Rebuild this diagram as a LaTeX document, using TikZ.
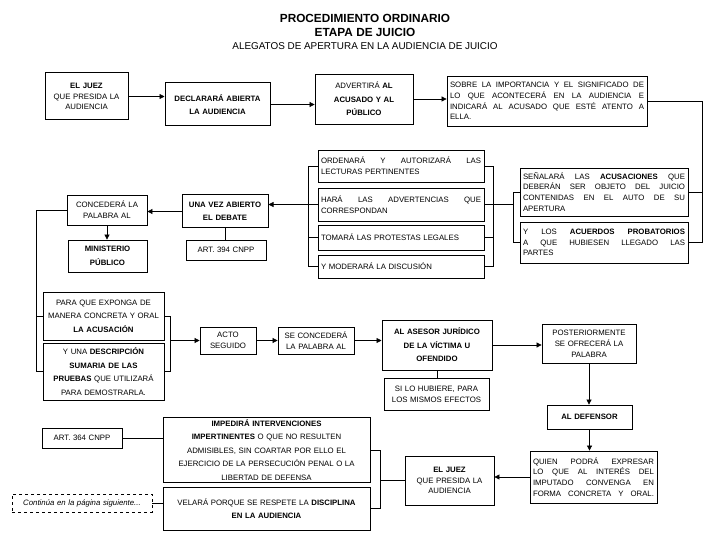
\documentclass[tikz,border=0pt]{standalone}
\usepackage{fontspec}
\setmainfont{Liberation Sans}
\usetikzlibrary{arrows.meta}
\newcommand\jl[1]{\leavevmode\hbox to\hsize{\spaceskip=0pt\xspaceskip=0pt\relax #1}}
\newcommand\mkbox[7]{%
  \pgfmathsetmacro\bw{#4-#2}%
  \pgfmathsetmacro\bh{#5-#3}%
  \pgfmathsetmacro\bcx{(#2+#4)/2}%
  \pgfmathsetmacro\bcy{(#3+#5)/2}%
  \pgfmathsetmacro\btw{#4-#2-6}%
  \node[box,minimum width=\bw pt,minimum height=\bh pt,text width=\btw pt,#6] (#1) at (\bcx,\bcy) {#7};}
\tikzset{
  box/.style={draw,line width=0.8pt,inner sep=2pt,align=center,font=\fontsize{7.8}{10.8}\selectfont},
  wide/.style={font=\fontsize{7.8}{13.5}\selectfont},
  jus/.style={align=left},
  thin/.style={line width=0.5pt},
  ln/.style={line width=0.7pt},
  arr/.style={line width=0.7pt,-{Triangle[length=5pt,width=5pt]}}
}
\begin{document}
\begin{tikzpicture}[x=1pt,y=-1pt]
\useasboundingbox (0,0) rectangle (720,540);
% titles
\node[font=\bfseries\fontsize{11.8}{13}\selectfont] (t1) at (365,18) {PROCEDIMIENTO ORDINARIO};
\node[font=\bfseries\fontsize{11.8}{13}\selectfont] (t2) at (365,32) {ETAPA DE JUICIO};
\node[font=\fontsize{9.9}{11}\selectfont] (t3) at (365,46) {ALEGATOS DE APERTURA EN LA AUDIENCIA DE JUICIO};
% row 1
\mkbox{juez1}{45}{73}{128}{120}{line width=1pt}{\textbf{EL JUEZ}\\QUE PRESIDA LA\\AUDIENCIA}
\mkbox{declara}{165}{83}{270}{126}{wide,line width=1pt}{\textbf{DECLARARÁ ABIERTA\\LA AUDIENCIA}}
\mkbox{advierte}{315}{74}{413}{124}{wide}{ADVERTIRÁ \textbf{AL}\\\textbf{ACUSADO Y AL}\\\textbf{PÚBLICO}}
\mkbox{sobre}{447}{76}{647}{126}{jus}{\jl{SOBRE LA IMPORTANCIA Y EL SIGNIFICADO DE}\\\jl{LO QUE ACONTECERÁ EN LA AUDIENCIA E}\\\jl{INDICARÁ AL ACUSADO QUE ESTÉ ATENTO A}\\ELLA.}
% right group
\mkbox{senala}{520}{168}{688}{216}{jus}{\jl{SEÑALARÁ LAS \textbf{ACUSACIONES} QUE}\\\jl{DEBERÁN SER OBJETO DEL JUICIO}\\\jl{CONTENIDAS EN EL AUTO DE SU}\\APERTURA}
\mkbox{ylos}{520}{222}{688}{263}{jus}{\jl{Y LOS \textbf{ACUERDOS PROBATORIOS}}\\\jl{A QUE HUBIESEN LLEGADO LAS}\\PARTES}
% middle group
\mkbox{ordena}{318}{150}{484}{182}{jus}{\jl{ORDENARÁ Y AUTORIZARÁ LAS}\\LECTURAS PERTINENTES}
\mkbox{hara}{318}{188}{484}{221}{jus}{\jl{HARÁ LAS ADVERTENCIAS QUE}\\CORRESPONDAN}
\mkbox{toma}{318}{225}{484}{250}{jus}{TOMARÁ LAS PROTESTAS LEGALES}
\mkbox{modera}{318}{255}{484}{278}{jus}{Y MODERARÁ LA DISCUSIÓN}
% left upper
\mkbox{unavez}{182}{195}{268}{228}{wide,line width=1pt}{\textbf{UNA VEZ ABIERTO\\EL DEBATE}}
\mkbox{art394}{186}{240}{266}{260}{thin}{ART. 394 CNPP}
\mkbox{concede}{67}{195}{147}{225}{}{CONCEDERÁ LA\\PALABRA AL}
\mkbox{mp}{68}{240}{147}{272}{wide}{\textbf{MINISTERIO\\PÚBLICO}}
% left lower
\mkbox{para}{43}{292}{164}{340}{wide}{PARA QUE EXPONGA DE\\MANERA CONCRETA Y ORAL\\\textbf{LA ACUSACIÓN}}
\mkbox{yuna}{43}{343}{164}{400}{wide}{Y UNA \textbf{DESCRIPCIÓN}\\\textbf{SUMARIA DE LAS}\\\textbf{PRUEBAS} QUE UTILIZARÁ\\PARA DEMOSTRARLA.}
\mkbox{acto}{200}{327}{256}{354}{}{ACTO\\SEGUIDO}
\mkbox{seconcede}{278}{327}{354}{354}{}{SE CONCEDERÁ\\LA PALABRA AL}
\mkbox{asesor}{382}{320}{492}{370}{wide,line width=1pt}{\textbf{AL ASESOR JURÍDICO\\DE LA VÍCTIMA U\\OFENDIDO}}
\mkbox{silo}{384}{378}{489}{410}{thin}{SI LO HUBIERE, PARA\\LOS MISMOS EFECTOS}
\mkbox{poster}{542}{324}{636}{363}{}{POSTERIORMENTE\\SE OFRECERÁ LA\\PALABRA}
\mkbox{defensor}{547}{405}{632}{429}{}{\textbf{AL DEFENSOR}}
\mkbox{quien}{530}{451}{657}{503}{jus}{\jl{QUIEN PODRÁ EXPRESAR}\\\jl{LO QUE AL INTERÉS DEL}\\\jl{IMPUTADO CONVENGA EN}\\\jl{FORMA CONCRETA Y ORAL.}}
% bottom
\mkbox{juez2}{405}{456}{494}{505}{}{\textbf{EL JUEZ}\\QUE PRESIDA LA\\AUDIENCIA}
\mkbox{impedira}{163}{418}{370}{482}{wide,line width=1pt}{\textbf{IMPEDIRÁ INTERVENCIONES}\\\textbf{IMPERTINENTES} O QUE NO RESULTEN\\ADMISIBLES, SIN COARTAR POR ELLO EL\\EJERCICIO DE LA PERSECUCIÓN PENAL O LA\\LIBERTAD DE DEFENSA}
\mkbox{velara}{163}{487}{370}{530}{wide}{VELARÁ PORQUE SE RESPETE LA \textbf{DISCIPLINA}\\\textbf{EN LA AUDIENCIA}}
\mkbox{art364}{42}{428}{122}{448}{thin}{ART. 364 CNPP}
\mkbox{continua}{12}{494}{152}{512}{thin,dashed}{\textit{Continúa en la página siguiente...}}
% bracket coordinates
\coordinate (r1) at (702,0);
\coordinate (r2) at (513,0);
\coordinate (r3) at (493,0);
\coordinate (l3) at (308,0);
\coordinate (l4) at (36,0);
\coordinate (r5) at (170,0);
\coordinate (l6) at (380,0);
% connectors row 1
\draw[arr] (juez1.east) -- (juez1.east -| declara.west);
\draw[arr] (declara.east) -- (declara.east -| advierte.west);
\draw[arr] (advierte.east) -- (advierte.east -| sobre.west);
\draw[ln] (sobre.east) -- (sobre.east -| r1) -- (r1 |- ylos.east) -- (ylos.east);
\draw[ln] (senala.east) -- (senala.east -| r1);
% right group left bracket
\draw[ln] (senala.west) -- (senala.west -| r2) -- (r2 |- ylos.west) -- (ylos.west);
\draw[ln] (hara.east -| r3) -- (hara.east -| r2);
% middle group brackets
\draw[ln] (ordena.east) -- (ordena.east -| r3) -- (r3 |- modera.east) -- (modera.east);
\draw[ln] (hara.east) -- (hara.east -| r3);
\draw[ln] (toma.east) -- (toma.east -| r3);
\draw[ln] (ordena.west) -- (ordena.west -| l3) -- (l3 |- modera.west) -- (modera.west);
\draw[ln] (hara.west) -- (hara.west -| l3);
\draw[ln] (toma.west) -- (toma.west -| l3);
\draw[arr] (hara.west -| l3) -- (hara.west -| unavez.east);
% left upper
\draw[ln] (unavez.south) -- (unavez.south |- art394.north);
\draw[arr] (unavez.west) -- (unavez.west -| concede.east);
\draw[arr] (concede.south) -- (concede.south |- mp.north);
\draw[ln] (concede.west) -- (concede.west -| l4) -- (l4 |- yuna.west) -- (yuna.west);
\draw[ln] (para.west -| l4) -- (para.west);
\draw[ln] (para.east) -- (para.east -| r5) -- (r5 |- yuna.east) -- (yuna.east);
\draw[arr] (acto.west -| r5) -- (acto.west);
% middle row
\draw[arr] (acto.east) -- (seconcede.west);
\draw[arr] (seconcede.east) -- (seconcede.east -| asesor.west);
\draw[ln] (asesor.south) -- (asesor.south |- silo.north);
\draw[arr] (asesor.east) -- (asesor.east -| poster.west);
\draw[arr] (poster.south) -- (poster.south |- defensor.north);
\draw[arr] (defensor.south) -- (defensor.south |- quien.north);
\draw[arr] (quien.west) -- (quien.west -| juez2.east);
% bottom
\draw[ln] (juez2.west) -- (juez2.west -| l6);
\draw[ln] (impedira.east) -- (impedira.east -| l6) -- (l6 |- velara.east) -- (velara.east);
\draw[ln] (art364.east) -- (art364.east -| impedira.west);
\draw[ln] (continua.east) -- (continua.east -| velara.west);
\end{tikzpicture}
\end{document}
